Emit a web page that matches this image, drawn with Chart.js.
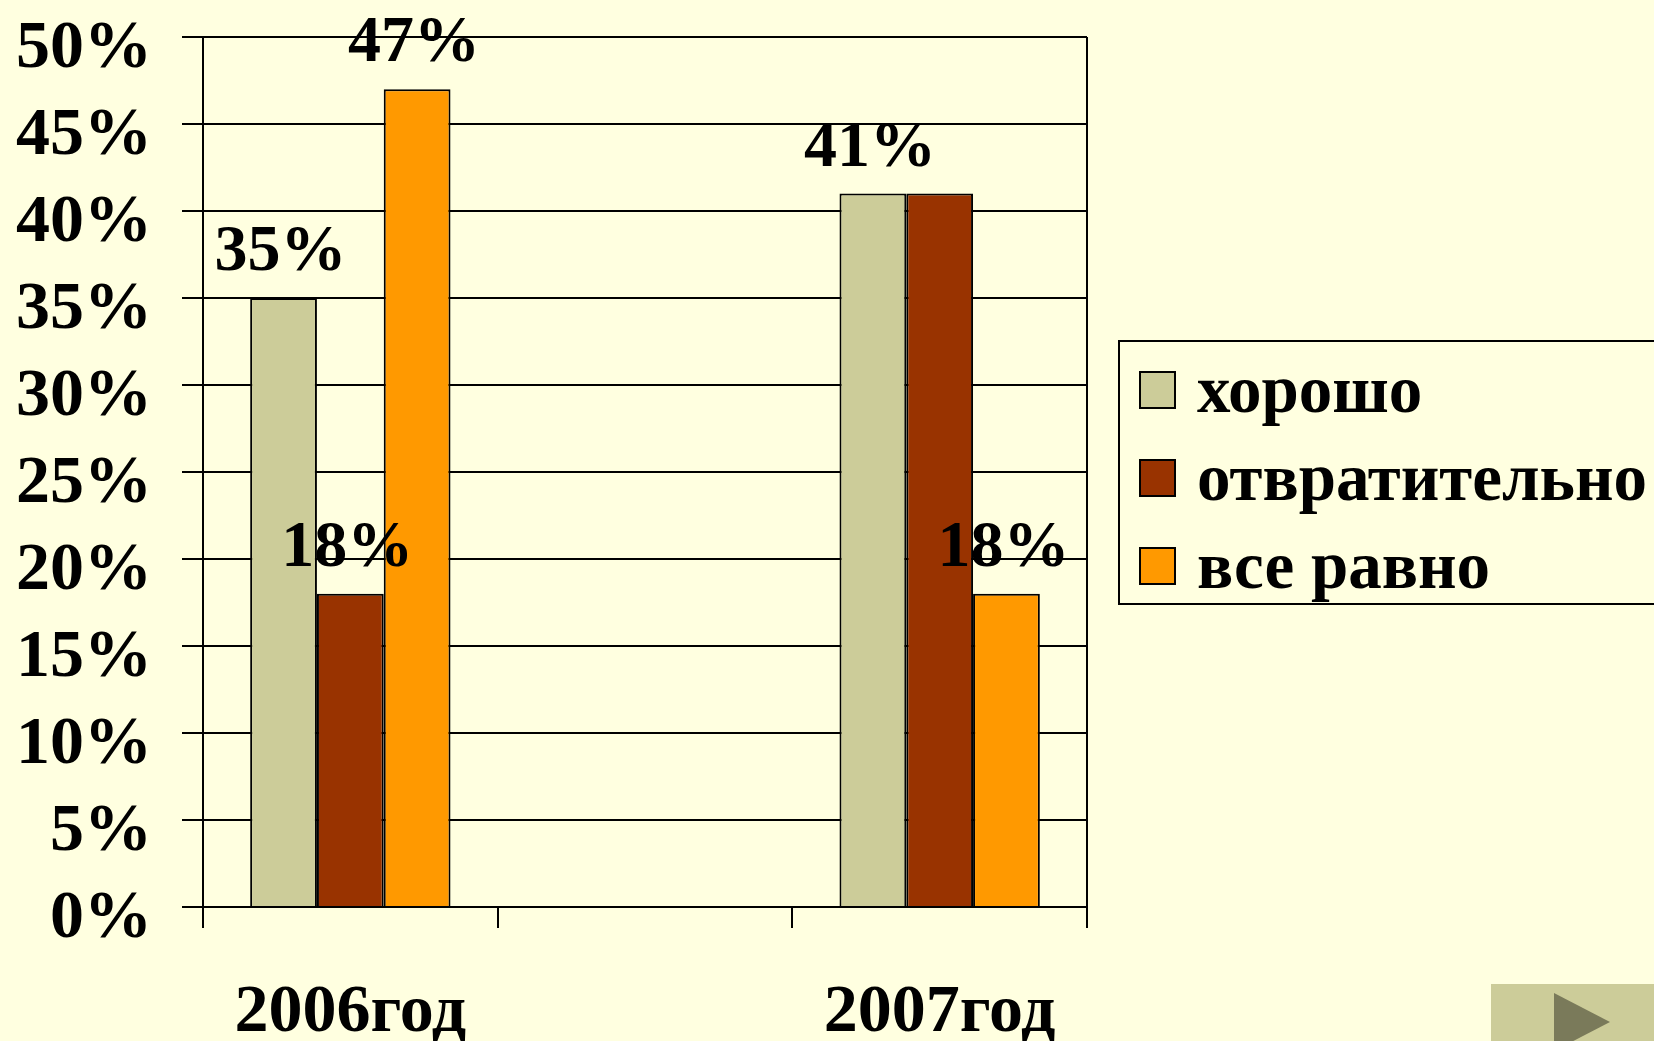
<!DOCTYPE html>
<html>
<head>
<meta charset="utf-8">
<script src="https://cdn.jsdelivr.net/npm/chart.js@4"></script>
<style>
  html, body { margin: 0; padding: 0; background: #FFFFE0; overflow: hidden; }
  #wrap { position: relative; width: 1654px; height: 1041px; }
  #nav-btn {
    position: absolute; left: 1491px; top: 984px; width: 170px; height: 70px;
    background: #CCCC99;
  }
  #nav-btn::after {
    content: ''; position: absolute; left: 63px; top: 9px;
    border-left: 56px solid #7A7A5A;
    border-top: 29px solid transparent;
    border-bottom: 29px solid transparent;
  }
</style>
</head>
<body>
<div id="wrap">
  <canvas id="chart" width="1654" height="1041"></canvas>
  <div id="nav-btn"></div>
</div>
<script>
document.addEventListener('DOMContentLoaded', function () {
    // --- Data ---
    const categories = ['2006год', '', '2007год'];
    const seriesNames = ['хорошо', 'отвратительно', 'все равно'];
    const good = [35, null, 41];
    const awful = [18, null, 41];
    const dontCare = [47, null, 18];
    const yTicks = [0, 5, 10, 15, 20, 25, 30, 35, 40, 45, 50];
    // labels that are not shown in the original (dataset index, point index)
    const hiddenLabels = [[1, 2]];

    const colors = ['#CCCC99', '#993300', '#FF9900'];
    const FONT = '"Liberation Serif", "Times New Roman", serif';

    Chart.defaults.font.family = FONT;
    Chart.defaults.font.weight = 'bold';
    Chart.defaults.color = '#000';

    // --- Plugins ---
    const valueLabels = {
        id: 'valueLabels',
        afterDatasetsDraw(chart) {
            const ctx = chart.ctx;
            ctx.save();
            ctx.font = 'bold 66px ' + FONT;
            ctx.fillStyle = '#000';
            ctx.textAlign = 'center';
            ctx.textBaseline = 'alphabetic';
            chart.data.datasets.forEach((ds, i) => {
                chart.getDatasetMeta(i).data.forEach((bar, j) => {
                    if (ds.data[j] == null) return;
                    if (hiddenLabels.some(h => h[0] === i && h[1] === j)) return;
                    ctx.fillText(ds.data[j] + '%', bar.x - 3, bar.y - 28);
                });
            });
            ctx.restore();
        }
    };

    const frameAndLegend = {
        id: 'frameAndLegend',
        afterDraw(chart) {
            const ctx = chart.ctx;
            const a = chart.chartArea;
            ctx.save();
            // right edge of plot area
            ctx.strokeStyle = '#000';
            ctx.lineWidth = 2;
            ctx.beginPath();
            ctx.moveTo(a.right, a.top);
            ctx.lineTo(a.right, a.bottom);
            ctx.stroke();

            // legend box
            const lx = a.right + 32, ly = 341, lh = 263;
            ctx.strokeRect(lx, ly, 700, lh);
            ctx.font = 'bold 67px ' + FONT;
            ctx.textBaseline = 'middle';
            ctx.textAlign = 'left';
            chart.data.datasets.forEach((ds, i) => {
                const cy = ly + 49 + i * 88;
                ctx.fillStyle = ds.backgroundColor;
                ctx.fillRect(lx + 21, cy - 18, 35, 36);
                ctx.strokeRect(lx + 21, cy - 18, 35, 36);
                ctx.fillStyle = '#000';
                ctx.fillText(ds.label, lx + 78, cy + 5);
            });
            ctx.restore();
        }
    };

    const datasets = [good, awful, dontCare].map((d, i) => ({
        label: seriesNames[i],
        data: d,
        backgroundColor: colors[i],
        borderColor: '#000',
        borderWidth: 2,
        borderSkipped: 'bottom',
        barPercentage: 1.0,
        categoryPercentage: 0.68
    }));

    new Chart(document.getElementById('chart'), {
        type: 'bar',
        data: { labels: categories, datasets: datasets },
        options: {
            responsive: false,
            animation: false,
            devicePixelRatio: 1,
            layout: { padding: { top: 37, right: 567, left: 0, bottom: 0 } },
            plugins: {
                legend: { display: false },
                tooltip: { enabled: false }
            },
            scales: {
                x: {
                    offset: true,
                    grid: {
                        offset: true,
                        drawOnChartArea: false,
                        drawTicks: true,
                        tickLength: 21,
                        color: '#000',
                        lineWidth: 2
                    },
                    border: { display: true, color: '#000', width: 2 },
                    ticks: {
                        font: { size: 68, weight: 'bold' },
                        color: '#000',
                        padding: 45,
                        maxRotation: 0
                    },
                    afterFit: s => { s.height = 134; s.paddingLeft = 0; s.paddingRight = 0; }
                },
                y: {
                    min: 0,
                    max: 50,
                    afterBuildTicks: s => { s.ticks = yTicks.map(v => ({ value: v })); },
                    grid: {
                        color: '#000',
                        lineWidth: 2,
                        drawTicks: true,
                        tickLength: 21
                    },
                    border: { display: true, color: '#000', width: 2 },
                    ticks: {
                        font: { size: 68, weight: 'bold' },
                        color: '#000',
                        padding: 30,
                        labelOffset: 12,
                        callback: v => v + '%'
                    },
                    afterFit: s => { s.width = 203; s.paddingTop = 0; s.paddingBottom = 0; }
                }
            }
        },
        plugins: [valueLabels, frameAndLegend]
    });
});
</script>
</body>
</html>
